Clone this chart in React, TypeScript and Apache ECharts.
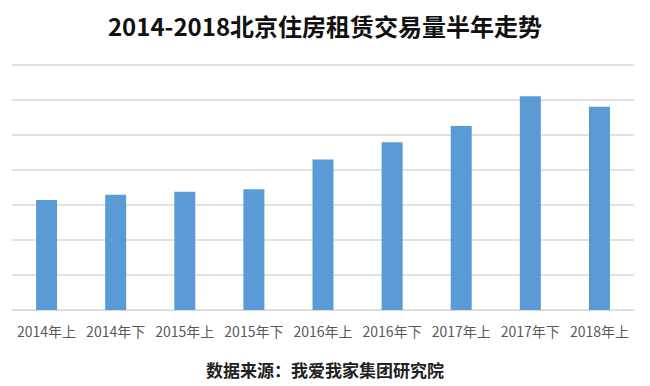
import React, { useEffect, useRef } from "react";
import * as echarts from "echarts";

// Half-year periods and rental transaction volume (relative scale)
const periods = [
  "2014年上",
  "2014年下",
  "2015年上",
  "2015年下",
  "2016年上",
  "2016年下",
  "2017年上",
  "2017年下",
  "2018年上",
];
const volumes = [3.14, 3.29, 3.38, 3.45, 4.3, 4.79, 5.26, 6.11, 5.81];

const titleText = "2014-2018北京住房租赁交易量半年走势";
const sourceText = "数据来源：我爱我家集团研究院";

const cjkFont = '"Noto Sans CJK SC", "Noto Sans", sans-serif';

export default function App() {
  const ref = useRef<HTMLDivElement>(null);

  useEffect(() => {
    if (!ref.current) return;
    const chart = echarts.init(ref.current, undefined, { renderer: "svg" });
    chart.setOption({
      animation: false,
      backgroundColor: "#ffffff",
      title: [
        {
          text: titleText,
          left: "center",
          top: 8,
          textStyle: {
            fontFamily: cjkFont,
            fontSize: 24,
            fontWeight: "bold",
            color: "#111111",
          },
        },
        {
          text: sourceText,
          left: "center",
          top: 356,
          textStyle: {
            fontFamily: cjkFont,
            fontSize: 17,
            fontWeight: "bold",
            color: "#222222",
          },
        },
      ],
      grid: { left: 12, right: 16, top: 65, bottom: 76, containLabel: false },
      xAxis: {
        type: "category",
        data: periods,
        axisLine: { show: true, lineStyle: { color: "#d9d9d9", width: 1 } },
        axisTick: { show: false },
        axisLabel: {
          interval: 0,
          margin: 14,
          fontFamily: cjkFont,
          fontSize: 14,
          color: "#595959",
        },
      },
      yAxis: {
        type: "value",
        min: 0,
        max: 7,
        interval: 1,
        axisLine: { show: false },
        axisTick: { show: false },
        axisLabel: { show: false },
        splitLine: { lineStyle: { color: "#d9d9d9", width: 1.5 } },
      },
      series: [
        {
          type: "bar",
          data: volumes,
          barWidth: 21,
          itemStyle: { color: "#5b9bd5" },
        },
      ],
    });
    return () => chart.dispose();
  }, []);

  return (
    <div
      ref={ref}
      style={{ width: 650, height: 386, position: "absolute", left: 0, top: 0 }}
    />
  );
}
